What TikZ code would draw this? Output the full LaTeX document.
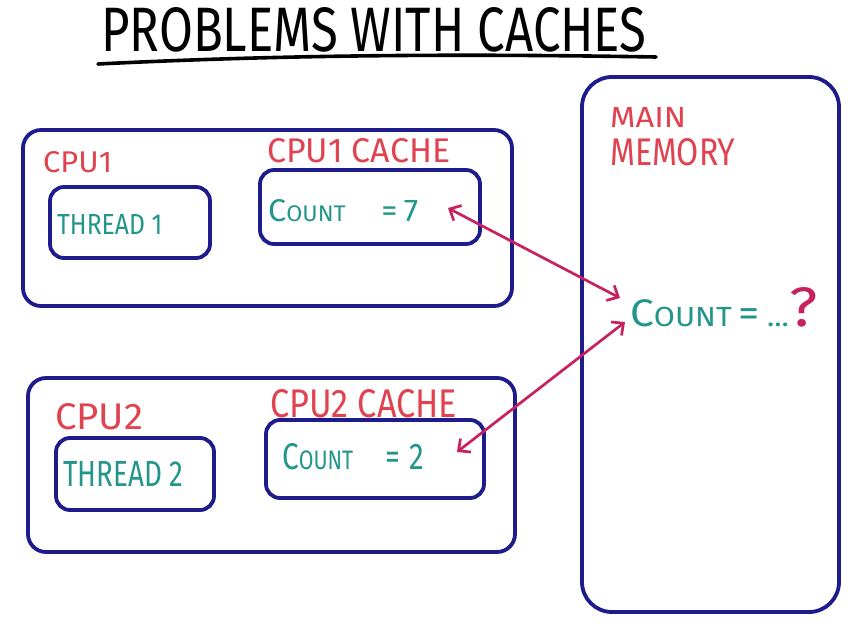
\documentclass[tikz,border=0pt]{standalone}
\usepackage{fontspec}
\setmainfont{Fira Sans}
\usepackage{graphicx}
\usetikzlibrary{arrows.meta,calc}
\definecolor{navy}{HTML}{1E1C8C}
\definecolor{redlbl}{HTML}{E0434F}
\definecolor{tealtxt}{HTML}{22968A}
\definecolor{mag}{HTML}{C8215F}
\newcommand{\fitlbl}[3]{\resizebox{#1pt}{#2pt}{#3}}
\newcommand{\smc}[1]{\scalebox{0.72}{#1}}
\begin{document}
\begin{tikzpicture}[x=1pt,y=-1pt,
  box/.style={draw=navy, line width=3.8pt, rounded corners=18pt, inner sep=0pt},
  lbl/.style={inner sep=0pt, anchor=south west},
  redl/.style={lbl, text=redlbl},
  teall/.style={lbl, text=tealtxt},
  arr/.style={draw=mag, line width=2.7pt, {Straight Barb[length=9pt,width=17pt]}-{Straight Barb[length=9pt,width=17pt]}}]
\useasboundingbox (0,0) rectangle (860,624);
\fill[white] (0,0) rectangle (860,624);
% title
\node[lbl] (title) at (101,52) {\fitlbl{545}{44}{PROBLEMS WITH CACHES}};
\coordinate (ulA) at (98,64);
\coordinate (ulB) at (656,57);
\draw[line width=3.6pt, line cap=round] (ulA) .. controls (300,54) and (480,54) .. (ulB);
% boxes
\node[box, minimum width=489pt, minimum height=176pt] (cpu1) at (267.5,218) {};
\node[box, minimum width=160pt, minimum height=71pt, rounded corners=14pt] (thr1) at (130,222.5) {};
\node[box, minimum width=220pt, minimum height=74pt, rounded corners=14pt] (cache1) at (370,207) {};
\node[box, minimum width=487pt, minimum height=174pt] (cpu2) at (271.5,465) {};
\node[box, minimum width=158pt, minimum height=72pt, rounded corners=14pt] (thr2) at (135,474) {};
\node[box, minimum width=218pt, minimum height=78pt, rounded corners=14pt] (cache2) at (375,459) {};
\node[box, minimum width=257pt, minimum height=535pt, rounded corners=30pt] (mem) at (710.5,344.5) {};
% labels
\node[redl] (cpu1lbl) at (43,173) {\fitlbl{69}{21}{CPU1}};
\node[redl] (cpu1cl) at (267,163) {\fitlbl{183}{24}{CPU1 CACHE}};
\node[teall] (thr1lbl) at (57,235) {\fitlbl{105}{20}{THREAD 1}};
\node[teall] (count1) at (268,222) {\fitlbl{150}{22}{C\smc{OUNT}\hspace{1.1em}=\hspace{0.2em}7}};
\node[redl] (cpu2lbl) at (55,430) {\fitlbl{88}{26}{CPU2}};
\node[redl] (cpu2cl) at (270,418) {\fitlbl{187}{28}{CPU2 CACHE}};
\node[teall] (thr2lbl) at (63,487) {\fitlbl{120}{25}{THREAD 2}};
\node[teall] (count2) at (282,470) {\fitlbl{142}{26}{C\smc{OUNT}\hspace{1.1em}=\hspace{0.3em}2}};
\node[redl] (mainlbl) at (610,128) {\fitlbl{76}{20}{MAIN}};
\node[redl] (memlbl) at (610,166) {\fitlbl{125}{27}{MEMORY}};
\node[teall] (memcount) at (630,327) {\fitlbl{187}{39}{C\smc{OUNT}\,=\,\smc{...}\textcolor{mag}{\scalebox{1.45}{?}}}};
% arrows
\coordinate (a1s) at (448,208);
\coordinate (a1e) at (620,298);
\coordinate (a2s) at (625,322);
\coordinate (a2e) at (457,452);
\draw[arr] (a1s) -- (a1e);
\draw[arr] (a2s) -- (a2e);
\end{tikzpicture}
\end{document}
